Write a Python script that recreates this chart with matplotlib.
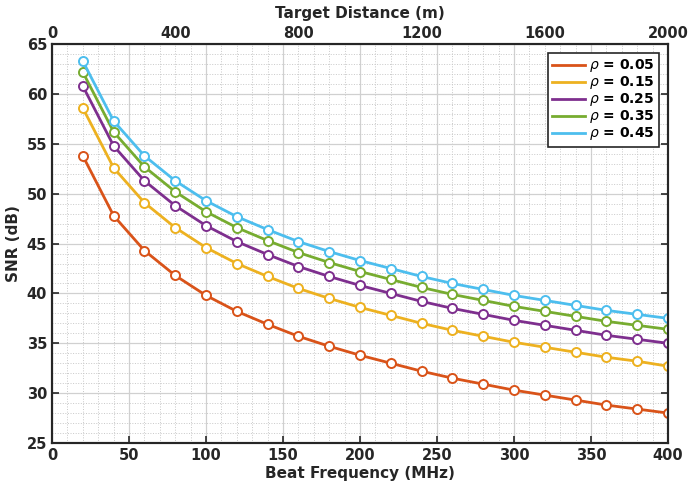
import matplotlib
matplotlib.use("Agg")
import matplotlib.pyplot as plt
from matplotlib.ticker import MultipleLocator

# Beat frequency sample points (MHz)
beat_freq = [20, 40, 60, 80, 100, 120, 140, 160, 180, 200,
             220, 240, 260, 280, 300, 320, 340, 360, 380, 400]

# SNR (dB) for each reflectivity value
snr_005 = [53.8, 47.8, 44.3, 41.8, 39.8, 38.2, 36.9, 35.7, 34.7, 33.8,
           33.0, 32.2, 31.5, 30.9, 30.3, 29.8, 29.3, 28.8, 28.4, 28.0]
snr_015 = [58.6, 52.6, 49.1, 46.6, 44.6, 43.0, 41.7, 40.5, 39.5, 38.6,
           37.8, 37.0, 36.3, 35.7, 35.1, 34.6, 34.1, 33.6, 33.2, 32.7]
snr_025 = [60.8, 54.8, 51.3, 48.8, 46.8, 45.2, 43.9, 42.7, 41.7, 40.8,
           40.0, 39.2, 38.5, 37.9, 37.3, 36.8, 36.3, 35.8, 35.4, 35.0]
snr_035 = [62.2, 56.2, 52.7, 50.2, 48.2, 46.6, 45.3, 44.1, 43.1, 42.2,
           41.4, 40.6, 39.9, 39.3, 38.7, 38.2, 37.7, 37.2, 36.8, 36.4]
snr_045 = [63.3, 57.3, 53.8, 51.3, 49.3, 47.7, 46.4, 45.2, 44.2, 43.3,
           42.5, 41.7, 41.0, 40.4, 39.8, 39.3, 38.8, 38.3, 37.9, 37.5]

series = [snr_005, snr_015, snr_025, snr_035, snr_045]
rho_labels = ["0.05", "0.15", "0.25", "0.35", "0.45"]
colors = ["#D95319", "#EDB120", "#7E2F8E", "#77AC30", "#4DBEEE"]

distance_ticks = [0, 400, 800, 1200, 1600, 2000]

axis_color = "#262626"

fig = plt.figure(figsize=(6.88, 4.91), dpi=100)
ax = fig.add_axes([0.0756, 0.0978, 0.8954, 0.8122])

for vals, lab, col in zip(series, rho_labels, colors):
    ax.plot(beat_freq, vals, color=col, lw=2.0, marker="o", ms=6.5,
            mfc="white", mec=col, mew=1.4,
            label=r"$\rho$ = " + lab)

ax.set_xlim(0, 400)
ax.set_ylim(25, 65)
ax.xaxis.set_major_locator(MultipleLocator(50))
ax.xaxis.set_minor_locator(MultipleLocator(10))
ax.yaxis.set_major_locator(MultipleLocator(5))
ax.yaxis.set_minor_locator(MultipleLocator(1))

ax.grid(which="major", color="#d0d0d0", lw=0.9, ls="-")
ax.grid(which="minor", color="#c8c8c8", lw=0.7, ls=":")
ax.set_axisbelow(True)

for s in ax.spines.values():
    s.set_color(axis_color)
    s.set_linewidth(1.5)

ax.tick_params(which="major", direction="in", length=5, width=1.2,
               colors=axis_color, labelsize=10.5, right=True, top=True,
               labeltop=False)
ax.tick_params(which="minor", length=0)
for lbl in ax.get_xticklabels() + ax.get_yticklabels():
    lbl.set_fontweight("bold")

ax.set_xlabel("Beat Frequency (MHz)", fontsize=11, fontweight="bold",
              color=axis_color, labelpad=2)
ax.set_ylabel("SNR (dB)", fontsize=11, fontweight="bold",
              color=axis_color, labelpad=4)

# Target distance axis along the top
top = ax.twiny()
top.set_xlim(0, 2000)
top.set_xticks(distance_ticks)
top.tick_params(direction="in", length=0, colors=axis_color,
                labelsize=10.5, pad=2)
for lbl in top.get_xticklabels():
    lbl.set_fontweight("bold")
top.set_xlabel("Target Distance (m)", fontsize=11, fontweight="bold",
               color=axis_color, labelpad=6)
for s in top.spines.values():
    s.set_color(axis_color)
    s.set_linewidth(1.5)

leg = ax.legend(loc="upper right", fontsize=10, frameon=True,
                fancybox=False, edgecolor=axis_color, framealpha=1,
                handlelength=2.4, borderpad=0.3, labelspacing=0.0,
                handletextpad=0.3, borderaxespad=0.65)
leg.get_frame().set_linewidth(1.2)
for t in leg.get_texts():
    t.set_fontweight("bold")
for h in leg.legend_handles:
    h.set_marker("")

fig.savefig("out.png", dpi=100)
